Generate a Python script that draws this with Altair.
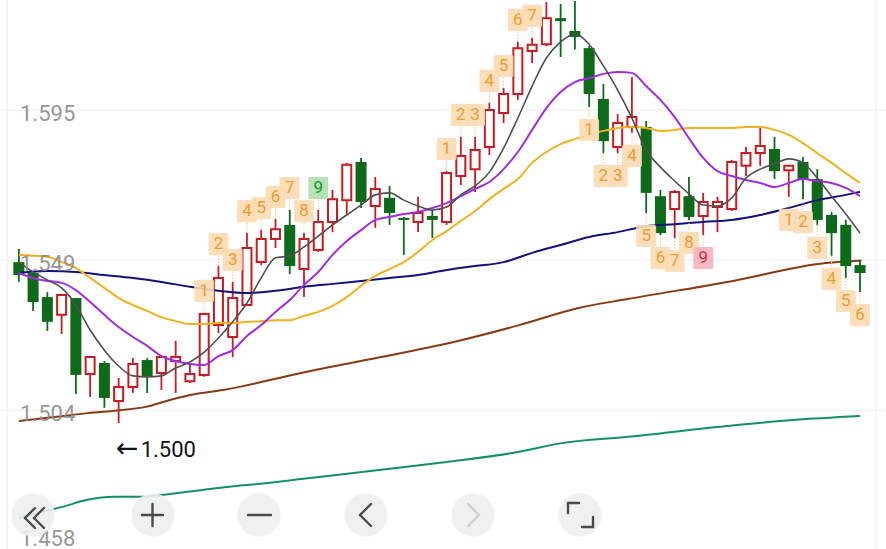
import altair as alt
import pandas as pd
import numpy as np

# ---------------- data ----------------
opens = [1.5489, 1.5456, 1.5383, 1.5329, 1.5380, 1.5150, 1.5183, 1.5068, 1.5110, 1.5192,
         1.5153, 1.5189, 1.5128, 1.5147, 1.5298, 1.5262, 1.5359, 1.5489, 1.5559, 1.5602,
         1.5468, 1.5526, 1.5611, 1.5677, 1.5793, 1.5659, 1.5684, 1.5623, 1.5611, 1.5629,
         1.5611, 1.5750, 1.5771, 1.5838, 1.5941, 1.5999, 1.6129, 1.6150, 1.6229, 1.6190,
         1.6138, 1.5984, 1.5838, 1.5899, 1.5899, 1.5689, 1.5650, 1.5689, 1.5629, 1.5656,
         1.5650, 1.5781, 1.5820, 1.5832, 1.5768, 1.5793, 1.5741, 1.5632, 1.5602, 1.5480]
closes = [1.5450, 1.5368, 1.5308, 1.5389, 1.5147, 1.5201, 1.5077, 1.5110, 1.5180, 1.5141,
          1.5201, 1.5201, 1.5150, 1.5332, 1.5441, 1.5380, 1.5532, 1.5559, 1.5589, 1.5477,
          1.5559, 1.5611, 1.5680, 1.5784, 1.5671, 1.5711, 1.5638, 1.5617, 1.5638, 1.5617,
          1.5759, 1.5811, 1.5829, 1.5950, 1.5999, 1.6138, 1.6148, 1.6229, 1.6220, 1.6172,
          1.5999, 1.5856, 1.5911, 1.5929, 1.5699, 1.5577, 1.5702, 1.5626, 1.5671, 1.5671,
          1.5793, 1.5820, 1.5841, 1.5765, 1.5781, 1.5741, 1.5617, 1.5577, 1.5477, 1.5456]
highs = [1.5529, 1.5456, 1.5398, 1.5389, 1.5380, 1.5201, 1.5189, 1.5138, 1.5198, 1.5198,
         1.5201, 1.5250, 1.5180, 1.5335, 1.5477, 1.5429, 1.5577, 1.5586, 1.5620, 1.5647,
         1.5577, 1.5647, 1.5708, 1.5790, 1.5805, 1.5747, 1.5720, 1.5626, 1.5687, 1.5647,
         1.5765, 1.5869, 1.5869, 1.5972, 1.6017, 1.6157, 1.6169, 1.6278, 1.6272, 1.6281,
         1.6144, 1.6029, 1.5938, 1.6050, 1.5917, 1.5708, 1.5708, 1.5747, 1.5699, 1.5687,
         1.5799, 1.5838, 1.5896, 1.5869, 1.5784, 1.5808, 1.5771, 1.5641, 1.5617, 1.5495]
lows = [1.5429, 1.5341, 1.5280, 1.5271, 1.5089, 1.5080, 1.5047, 1.5001, 1.5092, 1.5092,
        1.5101, 1.5092, 1.5122, 1.5141, 1.5274, 1.5201, 1.5359, 1.5480, 1.5532, 1.5453,
        1.5383, 1.5520, 1.5580, 1.5632, 1.5653, 1.5593, 1.5602, 1.5511, 1.5580, 1.5562,
        1.5602, 1.5723, 1.5702, 1.5814, 1.5911, 1.5981, 1.6093, 1.6144, 1.6111, 1.6134,
        1.5960, 1.5820, 1.5820, 1.5881, 1.5638, 1.5571, 1.5562, 1.5617, 1.5571, 1.5580,
        1.5644, 1.5750, 1.5781, 1.5741, 1.5687, 1.5680, 1.5602, 1.5508, 1.5441, 1.5398]

ma5 = [1.5489, 1.5459, 1.5435, 1.5411, 1.5359, 1.5283, 1.5222, 1.5174, 1.5144, 1.5141,
       1.5144, 1.5168, 1.5186, 1.5216, 1.5259, 1.5308, 1.5365, 1.5441, 1.5502, 1.5508,
       1.5535, 1.5568, 1.5602, 1.5632, 1.5662, 1.5693, 1.5699, 1.5677, 1.5659, 1.5647,
       1.5656, 1.5693, 1.5720, 1.5762, 1.5835, 1.5926, 1.6023, 1.6108, 1.6157, 1.6181,
       1.6150, 1.6084, 1.6011, 1.5926, 1.5829, 1.5777, 1.5735, 1.5696, 1.5662, 1.5659,
       1.5684, 1.5744, 1.5771, 1.5787, 1.5802, 1.5790, 1.5744, 1.5689, 1.5635, 1.5577]
ma10 = [1.5456, 1.5441, 1.5432, 1.5426, 1.5404, 1.5368, 1.5329, 1.5292, 1.5262, 1.5235,
        1.5204, 1.5189, 1.5180, 1.5177, 1.5204, 1.5222, 1.5265, 1.5298, 1.5338, 1.5374,
        1.5420, 1.5459, 1.5511, 1.5553, 1.5586, 1.5617, 1.5626, 1.5635, 1.5641, 1.5653,
        1.5668, 1.5689, 1.5711, 1.5732, 1.5771, 1.5823, 1.5890, 1.5956, 1.6005, 1.6035,
        1.6047, 1.6060, 1.6066, 1.6063, 1.6023, 1.5981, 1.5929, 1.5865, 1.5805, 1.5765,
        1.5750, 1.5738, 1.5729, 1.5717, 1.5729, 1.5741, 1.5735, 1.5729, 1.5714, 1.5689]
ma20 = [1.5511, 1.5508, 1.5505, 1.5489, 1.5471, 1.5441, 1.5411, 1.5380, 1.5359, 1.5341,
        1.5322, 1.5310, 1.5301, 1.5301, 1.5304, 1.5304, 1.5308, 1.5310, 1.5313, 1.5313,
        1.5326, 1.5338, 1.5356, 1.5383, 1.5417, 1.5447, 1.5468, 1.5489, 1.5520, 1.5556,
        1.5583, 1.5614, 1.5644, 1.5680, 1.5711, 1.5741, 1.5790, 1.5823, 1.5847, 1.5862,
        1.5875, 1.5887, 1.5896, 1.5899, 1.5896, 1.5887, 1.5890, 1.5896, 1.5896, 1.5896,
        1.5896, 1.5899, 1.5899, 1.5890, 1.5875, 1.5850, 1.5820, 1.5790, 1.5759, 1.5729]

ma60_idx = [0, 2, 4, 6, 8, 10, 12, 14, 16, 18, 20, 22, 24, 26, 28, 30, 32, 34, 36, 38,
            40, 42, 44, 46, 48, 50, 52, 54, 56, 58, 59]
ma60 = [1.5456, 1.5462, 1.5459, 1.5450, 1.5441, 1.5429, 1.5414, 1.5402, 1.5395, 1.5402,
        1.5414, 1.5423, 1.5432, 1.5441, 1.5450, 1.5465, 1.5477, 1.5489, 1.5517, 1.5541,
        1.5565, 1.5580, 1.5598, 1.5604, 1.5611, 1.5617, 1.5632, 1.5653, 1.5677, 1.5693,
        1.5702]

ma120_idx = [0, 2.5, 4.8, 7.1, 8.9, 10.6, 12.4, 14.3, 19.8, 25.4, 31.1, 35.1, 39.25,
             42.7, 49.7, 56.6, 59.1]
ma120 = [1.5007, 1.5019, 1.5031, 1.5040, 1.5050, 1.5071, 1.5089, 1.5101, 1.5153, 1.5201,
         1.5253, 1.5298, 1.5350, 1.5377, 1.5429, 1.5486, 1.5494]

ma250_idx = [0, 1.3, 3.0, 4.8, 6.7, 8.7, 10.6, 12.9, 15.2, 17.5, 19.8, 25.4, 30.0, 34.6,
             38.1, 42.7, 49.7, 54.3, 59.0]
ma250 = [1.4713, 1.4728, 1.4746, 1.4768, 1.4777, 1.4777, 1.4786, 1.4798, 1.4810, 1.4819,
         1.4831, 1.4859, 1.4883, 1.4910, 1.4940, 1.4959, 1.4992, 1.5010, 1.5022]

td_idx = [13, 14, 15, 16, 17, 18, 19, 20, 21,
          30, 31, 32, 33, 34, 35, 36,
          40, 41, 42, 43, 44, 45, 46, 47, 48,
          54, 55, 56, 57, 58, 59]
td_num = ["1", "2", "3", "4", "5", "6", "7", "8", "9",
          "1", "2", "3", "4", "5", "6", "7",
          "1", "2", "3", "4", "5", "6", "7", "8", "9",
          "1", "2", "3", "4", "5", "6"]
td_side = ["up"] * 16 + ["down"] * 15
td_kind = ["n"] * 8 + ["g"] + ["n"] * 7 + ["n"] * 8 + ["r"] + ["n"] * 6

grid_values = [1.595, 1.5495, 1.504, 1.4585]
grid_labels = ["1.595", "1.549", "1.504", "1.458"]

# ---------------- frames ----------------
n = len(opens)
cdf = pd.DataFrame({"i": np.arange(n), "open": opens, "close": closes,
                    "high": highs, "low": lows})
cdf["dir"] = np.where(cdf["close"] >= cdf["open"], "up", "down")

mdf = pd.DataFrame({"i": np.arange(n), "ma5": ma5, "ma10": ma10, "ma20": ma20})
m60 = pd.DataFrame({"i": ma60_idx, "v": ma60})
m120 = pd.DataFrame({"i": ma120_idx, "v": ma120})
m250 = pd.DataFrame({"i": ma250_idx, "v": ma250})

tdf = pd.DataFrame({"i": td_idx, "t": td_num, "side": td_side, "kind": td_kind})
tdf = tdf.merge(cdf[["i", "high", "low"]], on="i")
tdf["anchor"] = np.where(tdf["side"] == "up", tdf["high"], tdf["low"])

lo_i = int(np.argmin(lows))
lowdf = pd.DataFrame({"i": [lo_i], "v": [lows[lo_i]],
                      "arrow": ["\u2190"], "t": [f"{lows[lo_i]:.3f}"]})

gdf = pd.DataFrame({"v": grid_values, "t": grid_labels})
one = pd.DataFrame({"a": [0]})

# ---------------- scales ----------------
W, H = 886, 549
xs = alt.Scale(domain=[-0.971, 60.47], nice=False, zero=False)
ys = alt.Scale(domain=[1.46189, 1.6284], nice=False, zero=False)
X = alt.X("i:Q", scale=xs, axis=None)

RED = "#c91b22"
GREEN = "#0d6a1a"
FONT = "Roboto"

layers = []

# gridlines + frame
layers.append(alt.Chart(gdf.iloc[:3]).mark_rule(color="#ececec", strokeWidth=1).encode(
    y=alt.Y("v:Q", scale=ys, axis=None)))
for xv in [7, 876]:
    layers.append(alt.Chart(one).mark_rule(color="#ececec", strokeWidth=1).encode(
        x=alt.value(xv), y=alt.value(0), y2=alt.value(H)))

# long MAs (behind candles)
layers.append(alt.Chart(m250).mark_line(color="#13906a", strokeWidth=2, interpolate="monotone").encode(
    x=X, y=alt.Y("v:Q", scale=ys, axis=None)))
layers.append(alt.Chart(m120).mark_line(color="#8a3a12", strokeWidth=2, interpolate="monotone").encode(
    x=X, y=alt.Y("v:Q", scale=ys, axis=None)))

# candles
layers.append(alt.Chart(cdf).mark_rule(strokeWidth=1.8).encode(
    x=X, y=alt.Y("low:Q", scale=ys, axis=None), y2="high:Q",
    color=alt.Color("dir:N", scale=alt.Scale(domain=["up", "down"], range=[RED, GREEN]), legend=None)))
layers.append(alt.Chart(cdf).transform_filter("datum.dir == 'down'").mark_bar(size=11, color=GREEN).encode(
    x=X, y=alt.Y("open:Q", scale=ys, axis=None), y2="close:Q"))
layers.append(alt.Chart(cdf).transform_filter("datum.dir == 'up'").mark_bar(
    size=9, fill="white", stroke=RED, strokeWidth=2).encode(
    x=X, y=alt.Y("open:Q", scale=ys, axis=None), y2="close:Q"))

# MAs over candles
layers.append(alt.Chart(m60).mark_line(color="#12127e", strokeWidth=2, interpolate="monotone").encode(
    x=X, y=alt.Y("v:Q", scale=ys, axis=None)))
layers.append(alt.Chart(mdf).mark_line(color="#f0b21e", strokeWidth=2, interpolate="monotone").encode(
    x=X, y=alt.Y("ma20:Q", scale=ys, axis=None)))
layers.append(alt.Chart(mdf).mark_line(color="#a22de0", strokeWidth=2, interpolate="monotone").encode(
    x=X, y=alt.Y("ma10:Q", scale=ys, axis=None)))
layers.append(alt.Chart(mdf).mark_line(color="#505050", strokeWidth=1.6, interpolate="monotone").encode(
    x=X, y=alt.Y("ma5:Q", scale=ys, axis=None)))

# TD sequence labels
box_path = ("M -0.75 -1 L 0.75 -1 Q 0.9 -1 0.9 -0.85 L 0.9 0.85 Q 0.9 1 0.75 1 "
            "L -0.75 1 Q -0.9 1 -0.9 0.85 L -0.9 -0.85 Q -0.9 -1 -0.75 -1 Z")
box_fill = alt.Scale(domain=["n", "g", "r"], range=["#fcdcb2", "#aee0ae", "#f7b2bb"])
txt_fill = alt.Scale(domain=["n", "g", "r"], range=["#f09a2e", "#23912e", "#d92a38"])
for side, off, conn in [("up", -22, -11), ("down", 23, 12)]:
    sub = alt.Chart(tdf).transform_filter(f"datum.side == '{side}'")
    layers.append(sub.mark_rule(color="#f3c27e", strokeWidth=1, strokeDash=[1.5, 1.5],
                                y2Offset=conn).encode(
        x=X, y=alt.Y("anchor:Q", scale=ys, axis=None), y2="anchor:Q"))
    layers.append(sub.mark_point(shape=box_path, filled=True, size=490, opacity=0.9,
                                 yOffset=off).encode(
        x=X, y=alt.Y("anchor:Q", scale=ys, axis=None),
        fill=alt.Fill("kind:N", scale=box_fill, legend=None)))
    layers.append(sub.mark_text(font=FONT, fontSize=17, baseline="middle", align="center",
                                yOffset=off).encode(
        x=X, y=alt.Y("anchor:Q", scale=ys, axis=None), text="t:N",
        color=alt.Color("kind:N", scale=txt_fill, legend=None)))

# lowest-price marker
layers.append(alt.Chart(lowdf).mark_text(font="DejaVu Sans", fontSize=27, align="left",
                                         baseline="middle", dx=-3, dy=26, color="#111111").encode(
    x=X, y=alt.Y("v:Q", scale=ys, axis=None), text="arrow:N"))
layers.append(alt.Chart(lowdf).mark_text(font=FONT, fontSize=22, align="left", baseline="middle",
                                         dx=22, dy=27, color="#111111").encode(
    x=X, y=alt.Y("v:Q", scale=ys, axis=None), text="t:N"))

# price labels
layers.append(alt.Chart(gdf.iloc[:3]).mark_text(font=FONT, fontSize=22, align="left", baseline="middle",
                                                dy=3.5, color="#8a8a8a", opacity=0.88).encode(
    x=alt.value(20), y=alt.Y("v:Q", scale=ys, axis=None), text="t:N"))
layers.append(alt.Chart(gdf.iloc[3:]).mark_text(font=FONT, fontSize=22, align="left", baseline="middle",
                                                dy=-21, color="#8a8a8a", opacity=0.88).encode(
    x=alt.value(20), y=alt.Y("v:Q", scale=ys, axis=None), text="t:N"))

# bottom toolbar (chrome)
for cx in [33, 153, 259, 366, 473, 580]:
    layers.append(alt.Chart(one).mark_point(shape="circle", filled=True, size=1886,
                                            color="#eeeeee", opacity=0.9).encode(
        x=alt.value(cx), y=alt.value(515)))
DARK = "#4a4a4a"
segs = [
    (35, 508, 25, 518, DARK), (25, 518, 35, 528, DARK),
    (44, 508, 34, 518, DARK), (34, 518, 44, 528, DARK),
    (142, 515, 163, 515, DARK), (152.5, 504, 152.5, 526, DARK),
    (248, 515, 271, 515, DARK),
    (371, 504, 360, 515, DARK), (360, 515, 371, 526, DARK),
    (468, 504, 479, 515, "#cfcfcf"), (479, 515, 468, 526, "#cfcfcf"),
    (568, 513, 568, 503, DARK), (568, 503, 579, 503, DARK),
    (582, 527, 593, 527, DARK), (593, 527, 593, 517, DARK),
]
for x1, y1, x2, y2, c in segs:
    layers.append(alt.Chart(one).mark_rule(color=c, strokeWidth=2.4, strokeCap="round").encode(
        x=alt.value(x1), y=alt.value(y1), x2=alt.value(x2), y2=alt.value(y2)))

chart = alt.layer(*layers).resolve_scale(color="independent", fill="independent").properties(
    width=W, height=H, padding=0,
    autosize=alt.AutoSizeParams(type="none"),
    background="white",
).configure_view(stroke=None)

chart.save("out.html", embed_options={"renderer": "svg", "actions": False})
